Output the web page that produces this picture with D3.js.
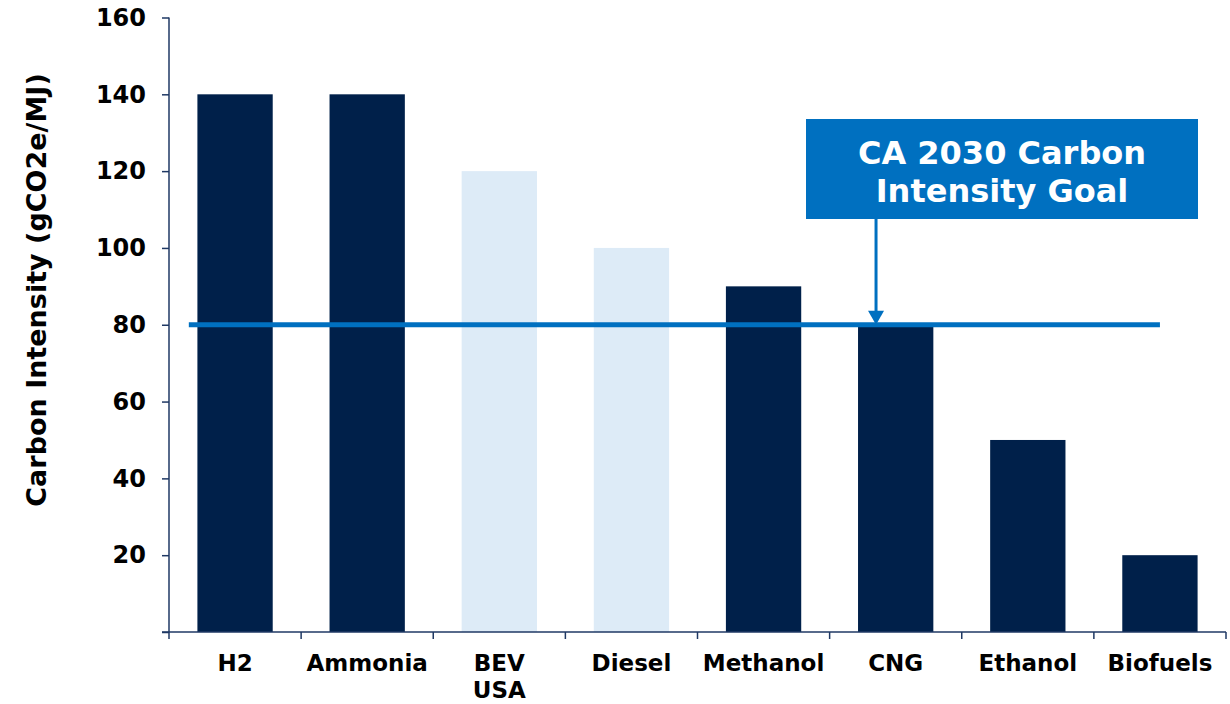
<!DOCTYPE html>
<html>
<head>
<meta charset="utf-8">
<script src="https://cdn.jsdelivr.net/npm/d3@7"></script>
<style>
    body { margin: 0; background: #fff; }
    text { font-family: "DejaVu Sans", Verdana, sans-serif; font-weight: bold; }
</style>
</head>
<body>
<script>
const w = 1230;
const h = 704;

// chart data
const categories = ["H2", "Ammonia", "BEV USA", "Diesel", "Methanol", "CNG", "Ethanol", "Biofuels"];
const values = [140, 140, 120, 100, 90, 80, 50, 20];
const highlighted = [true, true, false, false, true, true, true, true];
const yTicks = [20, 40, 60, 80, 100, 120, 140, 160];
const goalValue = 80;
const goalLabel = ["CA 2030 Carbon", "Intensity Goal"];
const goalCategory = "CNG";

const dark = "#00204a";
const light = "#ddebf7";
const blue = "#0070c0";
const axisColor = "#1f3864";

const svg = d3.select("body")
    .append("svg")
    .attr("width", w)
    .attr("height", h);

const x = d3.scaleBand()
    .domain(categories)
    .range([169, 1226])
    .paddingInner(0.43)
    .paddingOuter(0.215);

const y = d3.scaleLinear()
    .domain([0, 160])
    .range([632, 17.5]);

// bars
svg.selectAll("rect.bar")
    .data(categories)
    .enter()
    .append("rect")
    .attr("class", "bar")
    .attr("x", d => x(d))
    .attr("y", (d, i) => y(values[i]))
    .attr("width", x.bandwidth())
    .attr("height", (d, i) => y(0) - y(values[i]))
    .attr("fill", (d, i) => highlighted[i] ? dark : light);

// y axis
const yAxis = d3.axisLeft(y)
    .tickValues([0].concat(yTicks))
    .tickSize(7)
    .tickPadding(16)
    .tickFormat(d => d === 0 ? "" : d);

const gy = svg.append("g")
    .attr("transform", "translate(169,0)")
    .call(yAxis);
gy.select(".domain").attr("stroke", axisColor).attr("stroke-width", 1.5)
    .attr("d", `M0,${y(160)}V${y(0)}`);
gy.selectAll(".tick line").attr("stroke", axisColor).attr("stroke-width", 1.5);
gy.selectAll(".tick text")
    .attr("fill", "#000")
    .style("font-size", "24px")
    .style("font-family", "'DejaVu Sans', Verdana, sans-serif")
    .style("font-weight", "bold");

// x axis, ticks between categories
const xBounds = d3.range(categories.length + 1).map(i => x.range()[0] + i * x.step());
const gx = svg.append("g")
    .attr("transform", `translate(0,${y(0)})`);
gx.append("line")
    .attr("x1", 162).attr("x2", x.range()[1])
    .attr("stroke", axisColor).attr("stroke-width", 1.5);
gx.selectAll("line.tick")
    .data(xBounds)
    .enter()
    .append("line")
    .attr("class", "tick")
    .attr("x1", d => d).attr("x2", d => d)
    .attr("y1", 0).attr("y2", 7)
    .attr("stroke", axisColor).attr("stroke-width", 1.5);

gx.selectAll("text.cat")
    .data(categories)
    .enter()
    .append("text")
    .attr("class", "cat")
    .attr("text-anchor", "middle")
    .attr("x", d => x(d) + x.bandwidth() / 2)
    .attr("y", 39)
    .style("font-size", "23px")
    .each(function(d) {
        const parts = d.split(" ");
        d3.select(this).selectAll("tspan")
            .data(parts)
            .enter()
            .append("tspan")
            .attr("x", x(d) + x.bandwidth() / 2)
            .attr("dy", (p, i) => i === 0 ? 0 : 27)
            .text(p => p);
    });

// y axis title
svg.append("text")
    .attr("transform", "translate(46,290) rotate(-90)")
    .attr("text-anchor", "middle")
    .style("font-size", "27px")
    .text("Carbon Intensity (gCO2e/MJ)");

// goal line
const goalX1 = x.range()[0] + x.step() * 0.15;
const goalX2 = x("Biofuels") + x.bandwidth() / 2;
svg.append("line")
    .attr("x1", goalX1).attr("x2", goalX2)
    .attr("y1", y(goalValue)).attr("y2", y(goalValue))
    .attr("stroke", blue)
    .attr("stroke-width", 5);

// annotation box
const boxX = 806, boxY = 119, boxW = 392, boxH = 100;
svg.append("rect")
    .attr("x", boxX).attr("y", boxY)
    .attr("width", boxW).attr("height", boxH)
    .attr("fill", blue);

svg.append("text")
    .attr("text-anchor", "middle")
    .attr("fill", "#fff")
    .style("font-size", "32px")
    .selectAll("tspan")
    .data(goalLabel)
    .enter()
    .append("tspan")
    .attr("x", boxX + boxW / 2)
    .attr("y", (d, i) => 164 + i * 38)
    .text(d => d);

// arrow from box to goal line
const arrowX = x(goalCategory) + 18;
svg.append("line")
    .attr("x1", arrowX).attr("x2", arrowX)
    .attr("y1", boxY + boxH).attr("y2", y(goalValue) - 12)
    .attr("stroke", blue)
    .attr("stroke-width", 3);
svg.append("path")
    .attr("d", `M${arrowX - 8},${y(goalValue) - 14}L${arrowX + 8},${y(goalValue) - 14}L${arrowX},${y(goalValue)}Z`)
    .attr("fill", blue);
</script>
</body>
</html>
